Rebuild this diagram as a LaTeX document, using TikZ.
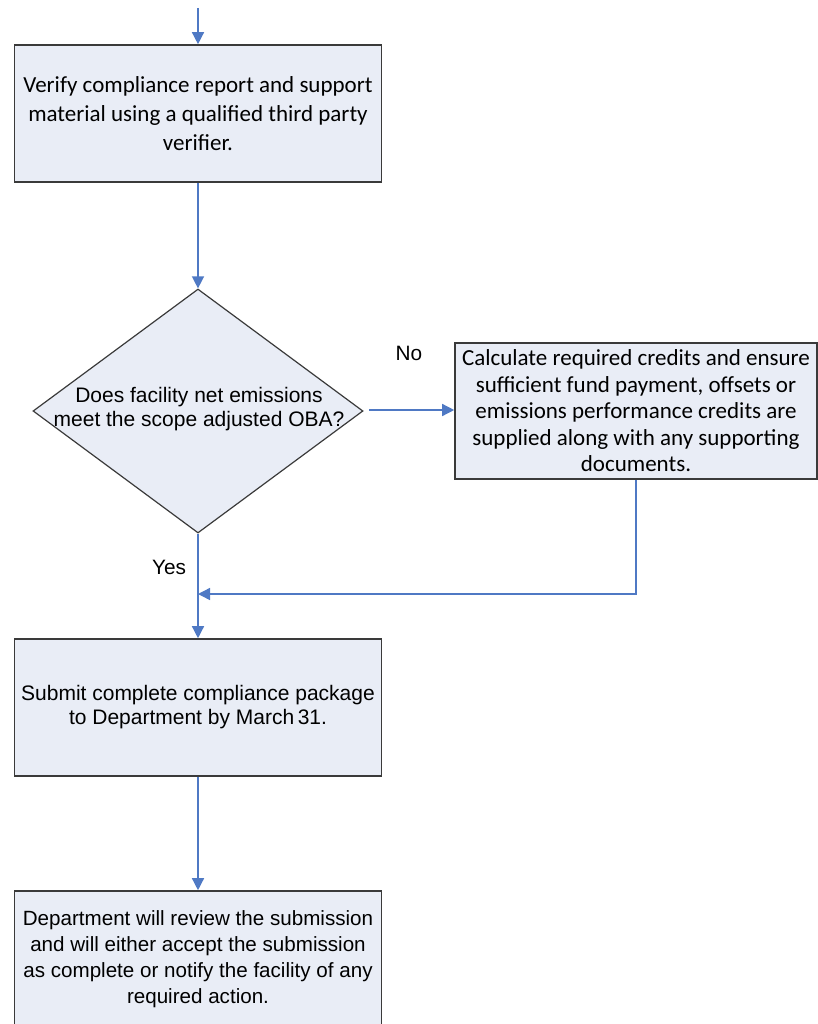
\documentclass[tikz,border=0pt]{standalone}
\usepackage{fontspec}
\newfontfamily\calfont{Carlito}
\newfontfamily\arifont{Liberation Sans}
\usetikzlibrary{shapes.geometric,arrows.meta}
\definecolor{boxfill}{HTML}{E9EDF6}
\definecolor{boxline}{HTML}{3A3A3A}
\definecolor{conn}{HTML}{4F79C4}
\tikzset{
  procbox/.style={draw=boxline, fill=boxfill, line width=1.6pt, minimum width=367pt, minimum height=137pt, inner sep=0pt, align=center},
  decbox/.style={draw=boxline, fill=boxfill, line width=1.2pt, diamond, minimum width=330pt, minimum height=244pt, inner sep=0pt},
  calt/.style={font=\calfont\fontsize{23}{29}\selectfont},
  calr/.style={font=\calfont\fontsize{23}{26.5}\selectfont},
  arit/.style={font=\arifont\fontsize{21}{24}\selectfont},
  arid/.style={font=\arifont\fontsize{20.6}{26}\selectfont},
  lbl/.style={font=\arifont\fontsize{20.8}{24}\selectfont, inner sep=0pt},
  flow/.style={draw=conn, line width=1.4pt, -{Triangle[length=12pt,width=12pt]}}
}
\begin{document}
\begin{tikzpicture}[x=1pt,y=-1pt]
\useasboundingbox (0,0) rectangle (817,1024);
\coordinate (start) at (198,8);
\node[procbox, calt] (verify) at (198,113.5) {Verify compliance report and support\\material using a qualified third party\\verifier.};
\node[decbox] (dec) at (198,411) {};
\node[arit, align=center] (dectext) at (199,409) {Does facility net emissions\\meet the scope adjusted OBA?};
\node[procbox, calr, minimum width=362pt, minimum height=136pt] (calc) at (636,411) {Calculate required credits and ensure\\sufficient fund payment, offsets or\\emissions performance credits are\\supplied along with any supporting\\documents.};
\node[procbox, arit] (submit) at (198,707.5) {Submit complete compliance package\\to Department by March\,31.};
\node[procbox, arid] (dept) at (198,959.5) {Department will review the submission\\and will either accept the submission\\as complete or notify the facility of any\\required action.};
\node[lbl] (no) at (409,353) {No};
\node[lbl] (yes) at (169,567) {Yes};
\coordinate (merge) at (198,594);
\coordinate (noEnd) at (369,410);
\draw[flow] (start) -- (verify.north);
\draw[flow] (verify.south) -- (dec.north);
\draw[flow] (noEnd) -- (calc.west |- noEnd);
\draw[flow] (calc.south) |- (merge);
\draw[flow] (dec.south) -- (submit.north);
\draw[flow] (submit.south) -- (dept.north);
\end{tikzpicture}
\end{document}
